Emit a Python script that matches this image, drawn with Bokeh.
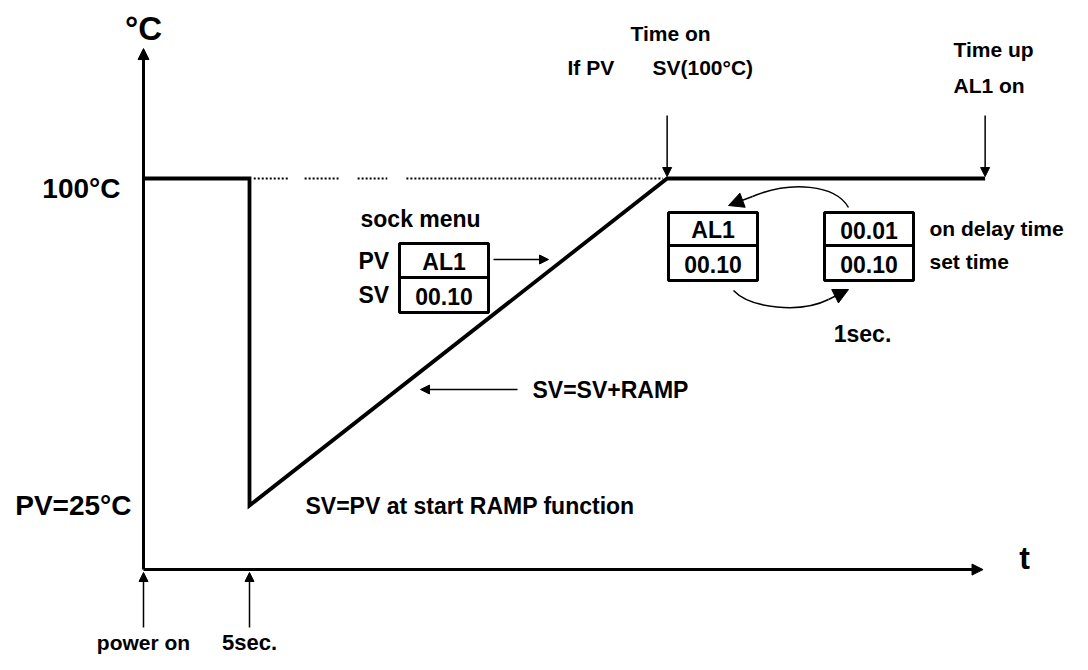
from bokeh.plotting import figure
from bokeh.models import Range1d, Arrow, NormalHead
from bokeh.core.properties import value
from bokeh.embed import file_html
from bokeh.resources import INLINE

# ---------------- data (time in s, temperature in degC) ----------------
profile_time = [0, 5, 5, 24.7, 39.7]
profile_temp = [100, 100, 25, 100, 100]
setpoint_temp = 100
start_pv_temp = 25
marker_times_below = [0, 5]          # power on, 5 sec delay
marker_labels_below = ["power on", "5sec."]
marker_times_above = [24.7, 39.7]    # Time on, Time up
axis_t_end = 39.6
axis_temp_base = 10.3
axis_temp_top = 129.8
dotted_segments_t = [(5.2, 6.9), (7.6, 9.2), (10.1, 11.5), (12.4, 24.5)]
y_labels = ["100°C", "PV=25°C"]
y_label_temps = [100, 25]
sock_box = ["AL1", "00.10"]
al_box = ["AL1", "00.10"]
time_box = ["00.01", "00.10"]
time_box_labels = ["on delay time", "set time"]

# ---------------- layout helpers (screen px -> data) ----------------
PX_PER_S = 21.2
PX_PER_C = 4.36
X0 = 143
Y100 = 178
W, H = 1072, 654


def tx(px):
    return (px - X0) / PX_PER_S


def ty(py):
    return 100 - (py - Y100) / PX_PER_C


def sx(t):
    return X0 + t * PX_PER_S


def sy(c):
    return Y100 - (c - 100) * PX_PER_C


FONT = value("Liberation Sans")

p = figure(width=W, height=H, x_range=Range1d(tx(0), tx(W)),
           y_range=Range1d(ty(H), ty(0)), toolbar_location=None,
           output_backend="svg", min_border=0, title=None,
           x_axis_location=None, y_axis_location=None,
           outline_line_color=None, background_fill_color="white")
p.grid.visible = False


def txt(x, y, s, size, align="left", baseline="middle", bold=True):
    p.text(x=[tx(x)], y=[ty(y)], text=[s], text_font=FONT,
           text_font_size=f"{size}px", text_font_style="bold" if bold else "normal",
           text_align=align, text_baseline=baseline, text_color="black")


def arrow(x0, y0, x1, y1, size=10, lw=1.5):
    p.add_layout(Arrow(end=NormalHead(size=size, fill_color="black", line_color="black",
                                      line_width=1),
                       x_start=x0, y_start=y0, x_end=x1, y_end=y1,
                       line_color="black", line_width=lw))


# axes with arrows
arrow(0, axis_temp_base, 0, axis_temp_top, size=11, lw=3)
arrow(0, axis_temp_base, axis_t_end, axis_temp_base, size=11, lw=3)

# dotted setpoint reference
p.multi_line(xs=[[a, b] for a, b in dotted_segments_t],
             ys=[[setpoint_temp, setpoint_temp] for _ in dotted_segments_t],
             line_color="black", line_width=2, line_dash="2 2")

# temperature / setpoint profile
p.line(profile_time, profile_temp, line_color="black", line_width=3.8, line_join="miter")

# event markers below the time axis
for t in marker_times_below:
    arrow(t, ty(627), t, ty(572), size=9)
for t, lab in zip(marker_times_below, marker_labels_below):
    txt(sx(t), 642, lab, 21 if lab == "power on" else 22, align="center")

# event markers above
for t in marker_times_above:
    arrow(t, ty(115), t, ty(176), size=9)

# axis labels
txt(143, 28, "°C", 33, align="center")
txt(1024, 557, "t", 32, align="center")
for lab, c in zip(y_labels, y_label_temps):
    txt(120 if c == 100 else 131, sy(c) + 10 if c == 100 else sy(c), lab, 28, align="right")

# top annotations
txt(670, 33, "Time on", 21, align="center")
txt(567, 67, "If PV", 21)
txt(652, 67, "SV(100°C)", 21)
txt(953, 49, "Time up", 21)
txt(953, 85, "AL1 on", 21)

# sock menu box
txt(360, 218, "sock menu", 23)
txt(358, 260, "PV", 23)
txt(358, 294, "SV", 23)


def box(x0, x1, y0, y1, ymid, rows):
    p.quad(left=[tx(x0)], right=[tx(x1)], bottom=[ty(y1)], top=[ty(y0)],
           fill_color="white", line_color="black", line_width=3)
    p.line([tx(x0), tx(x1)], [ty(ymid), ty(ymid)], line_color="black", line_width=3)
    cx = (x0 + x1) / 2
    txt(cx, (y0 + ymid) / 2 + 1, rows[0], 23, align="center")
    txt(cx, (ymid + y1) / 2 + 1, rows[1], 23, align="center")


box(399, 488, 243, 312, 277, sock_box)
arrow(tx(493), ty(259), tx(548), ty(259), size=9)

# ramp annotations
arrow(tx(517), ty(389), tx(420), ty(389), size=9)
txt(532, 389, "SV=SV+RAMP", 23)
txt(305, 505, "SV=PV at start RAMP function", 23)

# right side boxes
box(668, 757, 212, 280, 245, al_box)
box(824, 913, 212, 280, 245, time_box)
for lab, yy in zip(time_box_labels, [228, 261]):
    txt(929, yy, lab, 21)

# curved arrows
p.bezier(x0=[tx(848)], y0=[ty(207)], x1=[tx(752)], y1=[ty(196)],
         cx0=[tx(835)], cy0=[ty(184)], cx1=[tx(790)], cy1=[ty(180)],
         line_color="black", line_width=1.5)
arrow(tx(752), ty(196), tx(728), ty(205), size=15)
p.bezier(x0=[tx(733)], y0=[ty(290)], x1=[tx(828)], y1=[ty(299)],
         cx0=[tx(750)], cy0=[ty(308)], cx1=[tx(800)], cy1=[ty(313)],
         line_color="black", line_width=1.5)
arrow(tx(828), ty(299), tx(848), ty(289), size=15)
txt(862, 333, "1sec.", 23, align="center")

open("out.html", "w").write(file_html(p, INLINE))
